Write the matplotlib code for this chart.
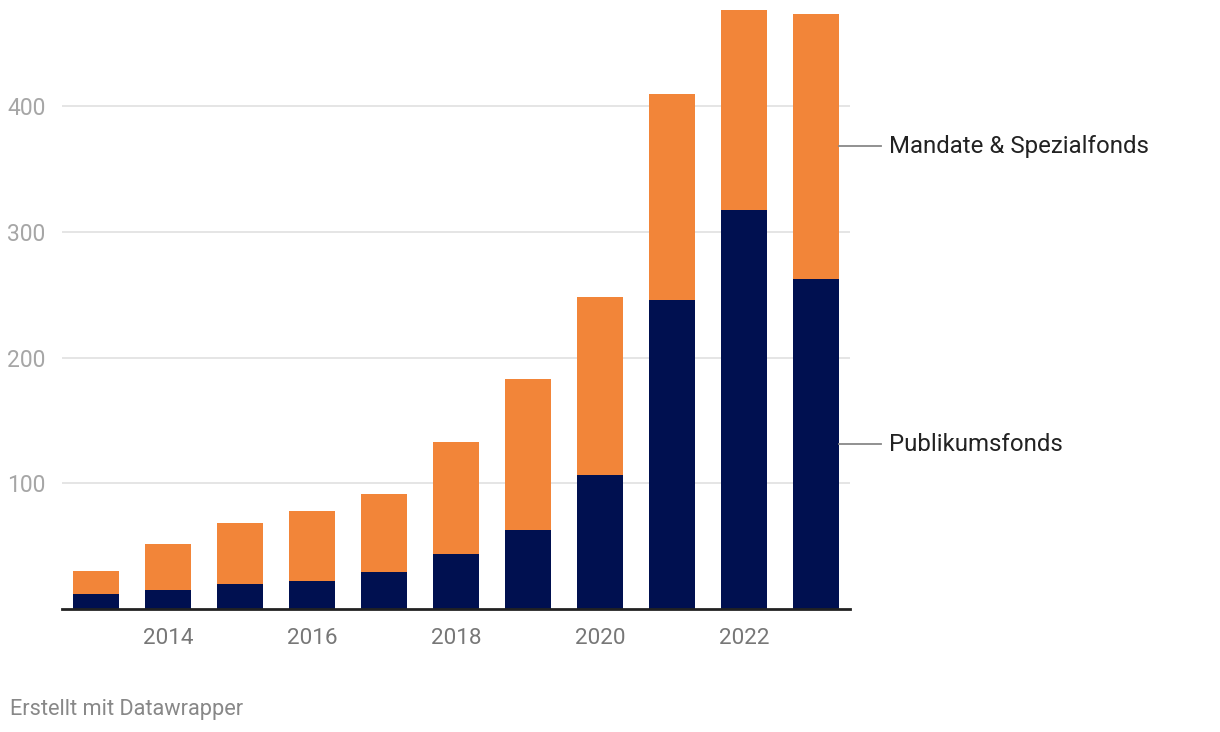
import numpy as np
import matplotlib.pyplot as plt

plt.rcParams['font.family'] = ['Roboto', 'DejaVu Sans']

# Werte
jahre = [2013, 2014, 2015, 2016, 2017, 2018, 2019, 2020, 2021, 2022, 2023]
publikumsfonds = [11.9, 15.1, 19.9, 22.3, 29.4, 43.7, 62.8, 106.6, 245.7, 317.3, 262.4]
mandate = [18.3, 36.6, 48.5, 55.6, 62.1, 89.1, 120.1, 141.5, 163.8, 159.0, 210.8]
x_ticks = [2014, 2016, 2018, 2020, 2022]
y_ticks = [100, 200, 300, 400]

navy = '#001050'
orange = '#f28539'

fig = plt.figure(figsize=(12.2, 7.32), dpi=100)
ax = fig.add_axes([62 / 1220, (732 - 609) / 732, (850 - 62) / 1220, 609 / 732])

ax.bar(jahre, publikumsfonds, width=0.64, color=navy, zorder=2)
ax.bar(jahre, mandate, width=0.64, bottom=publikumsfonds, color=orange, zorder=2)

ax.set_xlim(2012.528, 2023.472)
ax.set_ylim(0, 484.3)

for s in ['top', 'right', 'left']:
    ax.spines[s].set_visible(False)
ax.spines['bottom'].set_color('#222222')
ax.spines['bottom'].set_linewidth(2)
ax.spines['bottom'].set_zorder(3)

ax.set_yticks(y_ticks)
ax.yaxis.grid(True, color='#e0e0e0', linewidth=1.2, zorder=0)
ax.tick_params(axis='y', length=0, pad=12, labelsize=16.5, labelcolor='#a6a6a6')
ax.set_xticks(x_ticks)
ax.tick_params(axis='x', length=0, pad=14, labelsize=16.2, labelcolor='#777777')

# Beschriftungen rechts neben dem letzten Balken
y_pub = publikumsfonds[-1] / 2
y_man = publikumsfonds[-1] + mandate[-1] / 2
for y, name in [(y_man, 'Mandate & Spezialfonds'), (y_pub, 'Publikumsfonds')]:
    ax.plot([2023.32, 2023.9], [y, y], color='#888888', linewidth=1.3, clip_on=False)
    ax.text(2024.02, y, name, fontsize=17.3, color='#222222', va='center', ha='left')

fig.text(10 / 1220, 1 - 710 / 732, 'Erstellt mit Datawrapper', fontsize=15.7,
         color='#888888', va='center', ha='left')

fig.savefig('out.png', dpi=100)
